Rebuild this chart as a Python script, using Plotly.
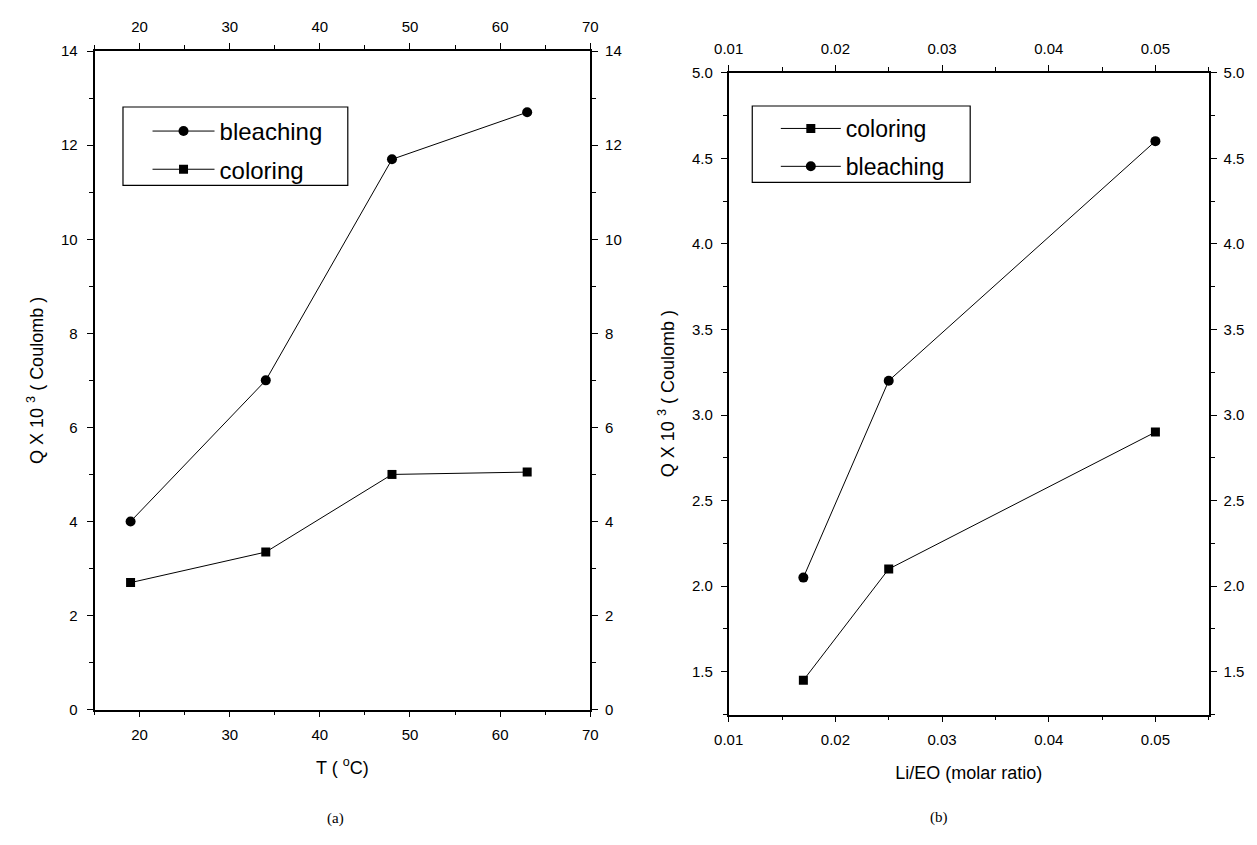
import plotly.graph_objects as go

# Panel (a): charge vs temperature
temp_c = [19, 34, 48, 63]
bleach_a = [4.0, 7.0, 11.7, 12.7]
color_a = [2.7, 3.35, 5.0, 5.05]

# Panel (b): charge vs Li/EO molar ratio
li_eo = [0.017, 0.025, 0.05]
color_b = [1.45, 2.1, 2.9]
bleach_b = [2.05, 3.2, 4.6]

W, H = 1257, 845
FONT = "Liberation Sans, Arial, sans-serif"
SERIF = "Liberation Serif, Times New Roman, serif"


def fx(px):
    return px / W


def fy(py):
    return 1 - py / H


def px_x(a, b):
    return [fx(a), fx(b)]


def px_y(top, bottom):
    return [fy(bottom), fy(top)]


fig = go.Figure()

line = dict(color="black", width=1)
circle = dict(symbol="circle", size=10, color="black")
square = dict(symbol="square", size=9, color="black")

fig.add_trace(go.Scatter(x=temp_c, y=bleach_a, name="bleaching", mode="lines+markers",
                         line=line, marker=circle, legendgroup="a1",
                         xaxis="x", yaxis="y", legend="legend"))
fig.add_trace(go.Scatter(x=temp_c, y=color_a, name="coloring", mode="lines+markers",
                         line=line, marker=square, legendgroup="a2",
                         xaxis="x", yaxis="y", legend="legend"))
fig.add_trace(go.Scatter(x=li_eo, y=color_b, name="coloring", mode="lines+markers",
                         line=line, marker=square, legendgroup="b1",
                         xaxis="x3", yaxis="y3", legend="legend2"))
fig.add_trace(go.Scatter(x=li_eo, y=bleach_b, name="bleaching", mode="lines+markers",
                         line=line, marker=circle, legendgroup="b2",
                         xaxis="x3", yaxis="y3", legend="legend2"))
# empty traces so the mirrored (top/right) axes are drawn
fig.add_trace(go.Scatter(x=[], y=[], xaxis="x2", yaxis="y2", showlegend=False))
fig.add_trace(go.Scatter(x=[], y=[], xaxis="x4", yaxis="y4", showlegend=False))

tickfont = dict(family=FONT, size=15, color="black")


def axis(**kw):
    base = dict(showgrid=False, zeroline=False, showline=True, linecolor="black", linewidth=1.6,
                ticks="outside", ticklen=6, tickwidth=1.3, tickcolor="black",
                tickfont=tickfont)
    base.update(kw)
    return base


def minor(step):
    return dict(ticks="outside", ticklen=4, dtick=step, tick0=0, tickcolor="black",
                tickwidth=1.2, showgrid=False)


xa_dom = px_x(81, 586)
ya_dom = px_y(43, 715)
xb_dom = px_x(727, 1216)
yb_dom = px_y(65, 720)

ax_a_x = dict(range=[15, 70], dtick=10, tick0=0, minor=minor(5), ticklabelstandoff=5)
ax_a_y = dict(range=[0, 14], dtick=2, tick0=0, minor=minor(1))
ax_b_x = dict(range=[0.01, 0.055], dtick=0.01, tick0=0, tickformat=".2f", minor=minor(0.005),
              ticklabelstandoff=5)
ax_b_y = dict(range=[1.25, 5.0], dtick=0.5, tick0=0, tickformat=".1f", minor=minor(0.25))

title_font = dict(family=FONT, size=18, color="black")
ytitle = "Q X 10 <sup>3</sup> ( Coulomb )"

legend_common = dict(xanchor="left", yanchor="top", borderwidth=0,
                     bgcolor="rgba(0,0,0,0)")

# legend frames
frames = [
    dict(type="rect", xref="paper", yref="paper", x0=fx(110), x1=fx(339), y0=fy(180), y1=fy(100),
         line=dict(color="black", width=1.2), layer="above"),
    dict(type="rect", xref="paper", yref="paper", x0=fx(751), x1=fx(973), y0=fy(177), y1=fy(99),
         line=dict(color="black", width=1.2), layer="above"),
]

fig.update_layout(
    width=W, height=H, margin=dict(l=0, r=0, t=0, b=0),
    paper_bgcolor="white", plot_bgcolor="white",
    xaxis=axis(domain=xa_dom, anchor="y", side="bottom",
               title=dict(text="T ( <sup>o</sup>C)", font=title_font, standoff=19), **ax_a_x),
    xaxis2=axis(domain=xa_dom, anchor="y2", side="top", overlaying="x", **ax_a_x),
    yaxis=axis(domain=ya_dom, anchor="x", side="left", ticklabelstandoff=6,
               title=dict(text=ytitle, font=title_font, standoff=13), **ax_a_y),
    yaxis2=axis(domain=ya_dom, anchor="x2", side="right", overlaying="y", ticklabelstandoff=4,
                **ax_a_y),
    xaxis3=axis(domain=xb_dom, anchor="y3", side="bottom",
                title=dict(text="Li/EO (molar ratio)", font=title_font, standoff=19), **ax_b_x),
    xaxis4=axis(domain=xb_dom, anchor="y4", side="top", overlaying="x3", **ax_b_x),
    yaxis3=axis(domain=yb_dom, anchor="x3", side="left", ticklabelstandoff=5,
                title=dict(text=ytitle, font=title_font, standoff=13), **ax_b_y),
    yaxis4=axis(domain=yb_dom, anchor="x4", side="right", overlaying="y3", ticklabelstandoff=4,
                **ax_b_y),
    legend=dict(x=fx(135), y=fy(102), itemwidth=62, tracegroupgap=4,
                font=dict(family=FONT, size=24, color="black"), **legend_common),
    legend2=dict(x=fx(775), y=fy(100), itemwidth=60, tracegroupgap=5,
                 font=dict(family=FONT, size=23, color="black"), **legend_common),
    shapes=frames,
    annotations=[
        dict(text="(a)", x=fx(316), y=fy(837), xref="paper", yref="paper", showarrow=False,
             font=dict(family=SERIF, size=15, color="black")),
        dict(text="(b)", x=fx(952), y=fy(836), xref="paper", yref="paper", showarrow=False,
             font=dict(family=SERIF, size=15, color="black")),
    ],
)

fig.write_html("out.html")
